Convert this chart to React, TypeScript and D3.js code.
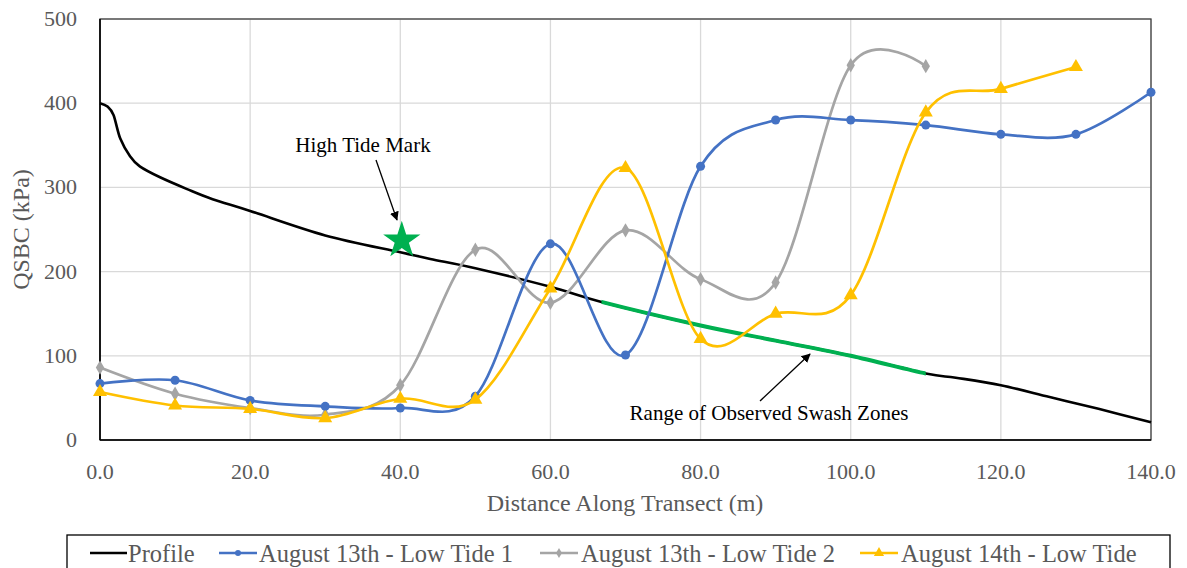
import React from "react";
import * as d3 from "d3";

const xTicks = [0, 20, 40, 60, 80, 100, 120, 140];
const yTicks = [0, 100, 200, 300, 400, 500];

const profileX = [0, 1, 1.8, 2.7, 4, 5.3, 8, 11.6, 15, 20, 30, 40, 44, 50, 60, 66.8, 80, 90, 100, 110, 114, 120, 126.5, 133, 140];
const profileY = [400, 396, 386, 358, 337, 325, 312, 298, 286, 272, 243, 223, 215, 204, 182, 164, 136, 118, 100, 79, 74, 65, 51, 37, 21];
const swashStart = 66.8;
const swashEnd = 110;

const seriesX1 = [0, 10, 20, 30, 40, 50, 60, 70, 80, 90, 100, 110, 120, 130, 140];
const lowTide1 = [67, 71, 47, 40, 38, 52, 233, 101, 325, 380, 380, 374, 363, 363, 413];
const seriesX2 = [0, 10, 20, 30, 40, 50, 60, 70, 80, 90, 100, 110];
const lowTide2 = [86, 55, 38, 30, 65, 226, 163, 249, 191, 187, 445, 444];
const seriesX3 = [0, 10, 20, 30, 40, 50, 60, 70, 80, 90, 100, 110, 120, 130];
const lowTide3 = [57, 41, 37, 26, 49, 48, 180, 323, 120, 150, 172, 389, 417, 443];

const starPoint = [40.2, 237];

const FONT = "'Liberation Serif', 'Times New Roman', 'DejaVu Serif', serif";
const BLUE = "#4472C4";
const GRAY = "#A5A5A5";
const YELLOW = "#FFC000";
const GREEN = "#00B050";

export default function App() {
  const W = 1187, H = 568;
  const left = 100, right = 1151, top = 19, bottom = 440;
  const x = d3.scaleLinear().domain([0, 140]).range([left, right]);
  const y = d3.scaleLinear().domain([0, 500]).range([bottom, top]);

  const smooth = d3.line<[number, number]>().x(d => x(d[0])).y(d => y(d[1])).curve(d3.curveCatmullRom.alpha(0));
  const profPts: [number, number][] = profileX.map((v, i) => [v, profileY[i]]);
  const profPath = smooth(profPts) || "";

  const mk = (xs: number[], ys: number[]) => xs.map((v, i) => [v, ys[i]] as [number, number]);
  const s1 = mk(seriesX1, lowTide1);
  const s2 = mk(seriesX2, lowTide2);
  const s3 = mk(seriesX3, lowTide3);

  const star = d3.symbol().type(d3.symbolStar).size(430)() || "";
  const diamond = d3.symbol().type(d3.symbolDiamond).size(60)() || "";
  const tri = d3.symbol().type(d3.symbolTriangle).size(85)() || "";
  const diamondS = d3.symbol().type(d3.symbolDiamond).size(30)() || "";
  const triS = d3.symbol().type(d3.symbolTriangle).size(45)() || "";

  const legendItems = [
    { label: "Profile", color: "#000", mark: null, lx: 90, lw: 37, tx: 128 },
    { label: "August 13th - Low Tide 1", color: BLUE, mark: "circle", lx: 219, lw: 38, tx: 259 },
    { label: "August 13th - Low Tide 2", color: GRAY, mark: "diamond", lx: 540, lw: 38, tx: 581 },
    { label: "August 14th - Low Tide", color: YELLOW, mark: "tri", lx: 860, lw: 38, tx: 901 },
  ];

  const markerFor = (m: string | null, color: string, cx: number, cy: number, key: string, small = false) => {
    if (m === "circle") return <circle key={key} cx={cx} cy={cy} r={small ? 3 : 4.5} fill={color} />;
    if (m === "diamond") return <path key={key} d={small ? diamondS : diamond} transform={`translate(${cx},${cy})`} fill={color} />;
    if (m === "tri") return <path key={key} d={small ? triS : tri} transform={`translate(${cx},${cy})`} fill={color} />;
    return null;
  };

  const tf = { fontFamily: FONT };

  return (
    <svg width={W} height={H} style={{ position: "absolute", left: 0, top: 0, background: "#fff", fontFamily: FONT }}>
      <defs>
        <clipPath id="swash">
          <rect x={x(swashStart)} y={0} width={x(swashEnd) - x(swashStart)} height={H} />
        </clipPath>
        <marker id="arrow" viewBox="0 0 10 10" refX="9" refY="5" markerWidth="7" markerHeight="7" orient="auto">
          <path d="M0,0 L10,5 L0,10 z" fill="#000" />
        </marker>
      </defs>
      {/* grid */}
      {yTicks.map(t => (
        <line key={"gy" + t} x1={left} x2={right} y1={y(t)} y2={y(t)} stroke="#d9d9d9" strokeWidth={1.3} />
      ))}
      {xTicks.map(t => (
        <line key={"gx" + t} x1={x(t)} x2={x(t)} y1={top} y2={bottom} stroke="#d9d9d9" strokeWidth={1.3} />
      ))}
      <rect x={left} y={top} width={right - left} height={bottom - top} fill="none" stroke="#404040" strokeWidth={1.3} />
      <line x1={left} x2={left} y1={top} y2={bottom} stroke="#000" strokeWidth={1.6} />
      <line x1={left} x2={right} y1={bottom} y2={bottom} stroke="#000" strokeWidth={1.6} />

      {/* tick labels */}
      {yTicks.map(t => (
        <text key={"ty" + t} x={77} y={y(t) + 7} textAnchor="end" fontSize={22} fill="#595959" style={tf}>{t}</text>
      ))}
      {xTicks.map(t => (
        <text key={"tx" + t} x={x(t)} y={479} textAnchor="middle" fontSize={22} fill="#595959" style={tf}>{t.toFixed(1)}</text>
      ))}
      <text x={625} y={511} textAnchor="middle" fontSize={24} fill="#595959" style={tf}>Distance Along Transect (m)</text>
      <text transform={`translate(29,${(top + bottom) / 2}) rotate(-90)`} textAnchor="middle" fontSize={24} fill="#595959" style={tf}>QSBC (kPa)</text>

      {/* profile */}
      <path d={profPath} fill="none" stroke="#000" strokeWidth={2.6} />
      <path d={profPath} fill="none" stroke={GREEN} strokeWidth={4} clipPath="url(#swash)" />

      {/* series */}
      <path d={smooth(s2) || ""} fill="none" stroke={GRAY} strokeWidth={2.7} />
      {s2.map((p, i) => markerFor("diamond", GRAY, x(p[0]), y(p[1]), "d" + i))}
      <path d={smooth(s1) || ""} fill="none" stroke={BLUE} strokeWidth={2.7} />
      {s1.map((p, i) => markerFor("circle", BLUE, x(p[0]), y(p[1]), "c" + i))}
      <path d={smooth(s3) || ""} fill="none" stroke={YELLOW} strokeWidth={2.7} />
      {s3.map((p, i) => markerFor("tri", YELLOW, x(p[0]), y(p[1]), "t" + i))}

      {/* star */}
      <path d={star} transform={`translate(${x(starPoint[0])},${y(starPoint[1])})`} fill={GREEN} />

      {/* annotations */}
      <text x={363} y={152} textAnchor="middle" fontSize={21} fill="#000" style={tf}>High Tide Mark</text>
      <line x1={376} y1={160} x2={397} y2={220} stroke="#000" strokeWidth={1.3} markerEnd="url(#arrow)" />
      <text x={769} y={420} textAnchor="middle" fontSize={21} fill="#000" style={tf}>Range of Observed Swash Zones</text>
      <line x1={760} y1={401} x2={810} y2={354} stroke="#000" strokeWidth={1.3} markerEnd="url(#arrow)" />

      {/* legend */}
      <rect x={67} y={535} width={1103} height={40} fill="#fff" stroke="#000" strokeWidth={1.3} />
      {legendItems.map((it, i) => (
        <g key={"lg" + i}>
          <line x1={it.lx} x2={it.lx + it.lw} y1={553} y2={553} stroke={it.color} strokeWidth={2.7} />
          {markerFor(it.mark, it.color, it.lx + it.lw / 2, 553, "lm" + i, true)}
          <text x={it.tx} y={562} fontSize={24.5} fill="#595959" style={tf}>{it.label}</text>
        </g>
      ))}
    </svg>
  );
}
